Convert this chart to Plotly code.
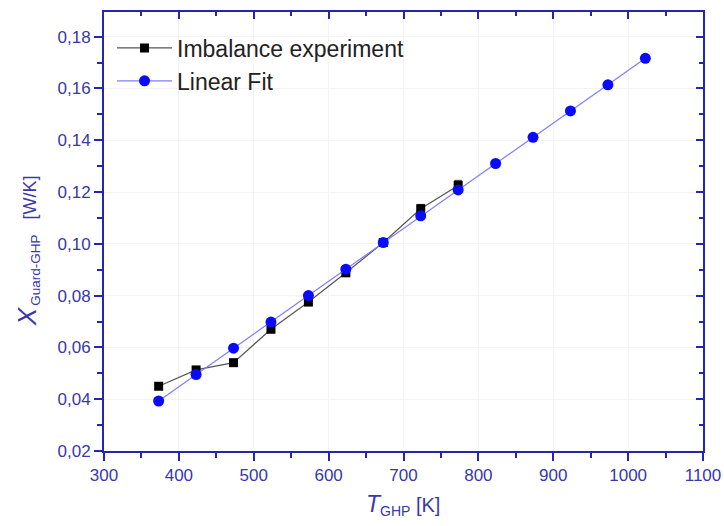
import plotly.graph_objects as go

# Data
exp_T = [373, 423, 473, 523, 573, 623, 673, 723, 773]
exp_X = [0.0450, 0.0513, 0.0541, 0.0670, 0.0775, 0.0888, 0.1005, 0.1135, 0.1225]
exp_err = [0.0008, 0.0008, 0.0008, 0.0010, 0.0010, 0.0012, 0.0015, 0.0017, 0.0020]

fit_T = [373, 423, 473, 523, 573, 623, 673, 723, 773, 823, 873, 923, 973, 1023]
fit_X = [0.0393, 0.0495, 0.0597, 0.0698, 0.0800, 0.0902, 0.1005, 0.1108, 0.1208, 0.1310, 0.1411, 0.1513, 0.1614, 0.1716]

x_range = [300, 1100]
y_range = [0.02, 0.1895]

x_title = "<span style='font-size:23px'><i>T</i></span><sub>GHP</sub> [K]"
y_title = ("<span style='font-size:26px'><i>X</i></span><span style='font-size:8px'>&nbsp;</span>"
           "<sub><span style='font-size:13.5px'>Guard-GHP</span></sub>&nbsp;&nbsp;&nbsp;[W/K]")

AX = "#2525b0"
TXT = "#3838a8"
FONT = "Liberation Sans, Arial, sans-serif"

fig = go.Figure()
fig.add_trace(go.Scatter(
    x=exp_T, y=exp_X, mode="lines+markers", name="Imbalance experiment",
    line=dict(color="#555555", width=1.2),
    marker=dict(symbol="square", size=9, color="black"),
    error_y=dict(type="data", array=exp_err, visible=True, color="#333333", thickness=1, width=4),
))
fig.add_trace(go.Scatter(
    x=fit_T, y=fit_X, mode="lines+markers", name="Linear Fit",
    line=dict(color="#7f7fff", width=1.2),
    marker=dict(symbol="circle", size=11, color="#0a0aff"),
))
# invisible trace for mirror axes with inward ticks
fig.add_trace(go.Scatter(x=[None], y=[None], xaxis="x2", yaxis="y2", showlegend=False, hoverinfo="skip"))

common = dict(linecolor=AX, linewidth=2, tickcolor=AX, tickwidth=2, ticklen=8,
              tickfont=dict(family=FONT, size=17, color=TXT),
              gridcolor="#f3f3f3", gridwidth=1, zeroline=False, automargin=False,
              ticklabeloverflow="allow")

fig.update_layout(
    width=724, height=526,
    margin=dict(l=104, r=21, t=12, b=75),
    paper_bgcolor="white", plot_bgcolor="white",
    separators=", ",
    font=dict(family=FONT),
    showlegend=True,
    legend=dict(x=0.0134, y=0.967, xanchor="left", yanchor="top",
                font=dict(family=FONT, size=23, color="#222222"),
                bgcolor="rgba(0,0,0,0)", tracegroupgap=0, itemwidth=55),
    xaxis=dict(range=x_range, dtick=100, ticks="outside", showline=True, mirror=True,
               showgrid=True,
               minor=dict(dtick=50, ticks="outside", ticklen=5, tickcolor=AX, tickwidth=2, showgrid=False),
               **common),
    yaxis=dict(range=y_range, dtick=0.02, tick0=0.02, tickformat=".2f", ticks="outside",
               showline=True, mirror=True, showgrid=True,
               minor=dict(dtick=0.01, ticks="outside", ticklen=5, tickcolor=AX, tickwidth=2, showgrid=False),
               **common),
    xaxis2=dict(range=x_range, overlaying="x", side="top", dtick=100, ticks="inside", ticklen=7,
                tickcolor=AX, tickwidth=2, showticklabels=False, showgrid=False, showline=False, zeroline=False,
                minor=dict(dtick=50, ticks="inside", ticklen=4, tickcolor=AX, tickwidth=2)),
    yaxis2=dict(range=y_range, overlaying="y", side="right", dtick=0.02, tick0=0.02, ticks="inside", ticklen=7,
                tickcolor=AX, tickwidth=2, showticklabels=False, showgrid=False, showline=False, zeroline=False,
                minor=dict(dtick=0.01, ticks="inside", ticklen=4, tickcolor=AX, tickwidth=2)),
    annotations=[
        dict(text=x_title, xref="paper", yref="paper", x=0.499, y=-0.123, xanchor="center", yanchor="middle",
             showarrow=False, font=dict(family=FONT, size=20, color=TXT)),
        dict(text=y_title, xref="paper", yref="paper", x=-0.1285, y=0.455, xanchor="center", yanchor="middle",
             textangle=-90, showarrow=False, font=dict(family=FONT, size=18, color=TXT)),
    ],
)

fig.write_html("out.html", config={"displayModeBar": False},
               post_script="document.body.style.margin='0';")
